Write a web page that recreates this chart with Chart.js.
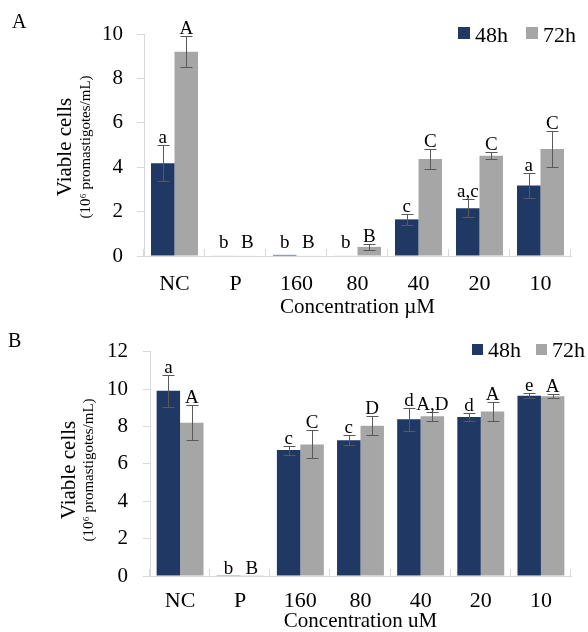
<!DOCTYPE html>
<html><head><meta charset="utf-8">
<script src="https://cdn.jsdelivr.net/npm/chart.js@4.4.1/dist/chart.umd.min.js"></script>
<style>
html,body{margin:0;padding:0;background:#fff;}
#wrap{width:588px;height:632px;position:relative;overflow:hidden;}
.pane{position:absolute;left:0;width:588px;}
#pa{top:0;height:318px;}
#pb{top:318px;height:314px;}
canvas{display:block;}
</style></head><body>
<div id="wrap">
<div class="pane" id="pa"><canvas id="ca" width="588" height="318"></canvas></div>
<div class="pane" id="pb"><canvas id="cb" width="588" height="314"></canvas></div>
</div>
<script>
// ---- data ----
const categories = ['NC', 'P', '160', '80', '40', '20', '10'];
const seriesNames = ['48h', '72h'];

const a48 = [4.18, 0.02, 0.05, 0.02, 1.65, 2.15, 3.18];
const a48err = [0.80, 0, 0, 0, 0.25, 0.40, 0.55];
const a72 = [9.20, 0.02, 0.02, 0.41, 4.37, 4.52, 4.82];
const a72err = [0.69, 0, 0, 0.14, 0.43, 0.17, 0.80];
const a48letters = ['a', 'b', 'b', 'b', 'c', 'a,c', 'a'];
const a72letters = ['A', 'B', 'B', 'B', 'C', 'C', 'C'];
const aTicks = [0, 2, 4, 6, 8, 10];

const b48 = [9.91, 0.02, 6.74, 7.26, 8.38, 8.50, 9.64];
const b48err = [0.87, 0, 0.24, 0.26, 0.63, 0.23, 0.13];
const b72 = [8.20, 0.02, 7.04, 8.04, 8.54, 8.80, 9.62];
const b72err = [0.93, 0, 0.75, 0.50, 0.24, 0.50, 0.10];
const b48letters = ['a', 'b', 'c', 'c', 'd', 'd', 'e'];
const b72letters = ['A', 'B', 'C', 'D', 'A,D', 'A', 'A'];
const bTicks = [0, 2, 4, 6, 8, 10, 12];

const yTitle = 'Viable cells';
const ySubTitle = '(10\u2076 promastigotes/mL)';
const xTitleA = 'Concentration \u00B5M';
const xTitleB = 'Concentration uM';

// ---- style ----
const FONT = 'Liberation Serif';
const NAVY = '#1F3864';
const GRAY = '#A6A6A6';
const AXIS = '#D9D9D9';
const ERR = '#595959';

Chart.defaults.font.family = FONT;
Chart.defaults.color = '#000';

const extras = {
  id: 'extras',
  afterDatasetsDraw(chart, args, o) {
    const ctx = chart.ctx, xs = chart.scales.x, ys = chart.scales.y;
    const zero = ys.getPixelForValue(0);
    ctx.save();
    // category boundary tick marks (inside)
    ctx.strokeStyle = AXIS; ctx.lineWidth = 1;
    for (let i = 0; i <= categories.length; i++) {
      const px = Math.round(xs.getPixelForValue(i - 0.5)) - 0.5;
      ctx.beginPath(); ctx.moveTo(px, zero); ctx.lineTo(px, zero - 7); ctx.stroke();
    }
    chart.data.datasets.forEach((ds, di) => {
      const meta = chart.getDatasetMeta(di);
      meta.data.forEach((bar, i) => {
        const v = ds.data[i], e = ds.errors[i];
        const cx = Math.round(bar.x) + 0.5;
        const yt = ys.getPixelForValue(v + e);
        if (e > 0) {
          const yb = ys.getPixelForValue(Math.max(v - e, 0));
          ctx.strokeStyle = ERR; ctx.lineWidth = 1;
          ctx.beginPath();
          ctx.moveTo(cx, Math.round(yt) + 0.5); ctx.lineTo(cx, Math.round(yb) + 0.5);
          ctx.moveTo(cx - 6, Math.round(yt) + 0.5); ctx.lineTo(cx + 6, Math.round(yt) + 0.5);
          ctx.moveTo(cx - 6, Math.round(yb) + 0.5); ctx.lineTo(cx + 6, Math.round(yb) + 0.5);
          ctx.stroke();
        }
        ctx.fillStyle = '#000';
        ctx.font = '19px "' + FONT + '"';
        ctx.textAlign = 'center'; ctx.textBaseline = 'alphabetic';
        const ly = Math.min(yt - 2, zero - o.minLift);
        ctx.fillText(ds.letters[i], bar.x, ly);
      });
    });
    // legend
    chart.data.datasets.forEach((ds, di) => {
      const bx = o.legendX[di];
      ctx.fillStyle = ds.backgroundColor;
      ctx.fillRect(bx, o.legendY, o.legendBox, o.legendBox);
      ctx.fillStyle = '#000';
      ctx.font = '22px "' + FONT + '"';
      ctx.textAlign = 'left'; ctx.textBaseline = 'alphabetic';
      ctx.fillText(ds.label, bx + o.legendBox + 5, o.legendBase);
    });
    // y titles
    ctx.fillStyle = '#000';
    ctx.textAlign = 'center'; ctx.textBaseline = 'middle';
    ctx.save();
    ctx.translate(o.yTitleX, o.yTitleY); ctx.rotate(-Math.PI / 2);
    ctx.font = '21px "' + FONT + '"';
    ctx.fillText(yTitle, 0, 0);
    ctx.restore();
    ctx.save();
    ctx.translate(o.ySubX, o.yTitleY); ctx.rotate(-Math.PI / 2);
    ctx.font = '15px "' + FONT + '"';
    ctx.fillText(ySubTitle, 0, 0);
    ctx.restore();
    // panel letter
    ctx.font = '20px "' + FONT + '"';
    ctx.textAlign = 'left'; ctx.textBaseline = 'alphabetic';
    ctx.fillText(o.panel, o.panelX, o.panelY);
    ctx.restore();
  }
};

function makeChart(id, d48, e48, l48, d72, e72, l72, ticks, xTitle, cfg) {
  return new Chart(document.getElementById(id), {
    type: 'bar',
    data: {
      labels: categories,
      datasets: [
        { label: seriesNames[0], data: d48, errors: e48, letters: l48, backgroundColor: NAVY,
          categoryPercentage: cfg.catPct, barPercentage: 1.0 },
        { label: seriesNames[1], data: d72, errors: e72, letters: l72, backgroundColor: GRAY,
          categoryPercentage: cfg.catPct, barPercentage: 1.0 }
      ]
    },
    options: {
      responsive: false,
      animation: false,
      devicePixelRatio: 1,
      layout: { padding: { top: cfg.top, right: 17, left: 0, bottom: 0 } },
      plugins: {
        legend: { display: false },
        tooltip: { enabled: false },
        extras: cfg.extras
      },
      scales: {
        x: {
          grid: { display: false, drawTicks: false },
          border: { color: AXIS, width: 1 },
          ticks: { font: { size: 22, lineHeight: 1 }, padding: cfg.xPad, color: '#000', maxRotation: 0 },
          title: { display: true, text: xTitle, font: { size: 21, lineHeight: 1 }, padding: { top: 0, bottom: cfg.xTitlePad }, color: '#000' },
          afterFit: s => { s.height = cfg.xHeight; }
        },
        y: {
          min: ticks[0], max: ticks[ticks.length - 1],
          afterBuildTicks: s => { s.ticks = ticks.map(v => ({ value: v })); },
          grid: { drawOnChartArea: false, drawTicks: true, tickLength: 7, color: AXIS },
          border: { color: AXIS, width: 1 },
          ticks: { font: { size: 21 }, padding: cfg.yPad, color: '#000' },
          afterFit: s => { s.width = cfg.yWidth; }
        }
      }
    },
    plugins: [extras]
  });
}

makeChart('ca', a48, a48err, a48letters, a72, a72err, a72letters, aTicks, xTitleA, {
  catPct: 0.77, top: 34, xPad: 17.5, xTitlePad: 0, xHeight: 62, yPad: 14, yWidth: 144,
  extras: { minLift: 8, legendX: [458, 526], legendY: 27, legendBox: 12, legendBase: 41.5,
            yTitleX: 65.5, ySubX: 86, yTitleY: 147, panel: 'A', panelX: 12, panelY: 28 }
});
makeChart('cb', b48, b48err, b48letters, b72, b72err, b72letters, bTicks, xTitleB, {
  catPct: 0.78, top: 33.7, xPad: 14.5, xTitlePad: 0.5, xHeight: 56, yPad: 15, yWidth: 150,
  extras: { minLift: 1, legendX: [472, 536], legendY: 26, legendBox: 11, legendBase: 39,
            yTitleX: 69.5, ySubX: 89, yTitleY: 152, panel: 'B', panelX: 8, panelY: 28.7 }
});
</script>
</body></html>
